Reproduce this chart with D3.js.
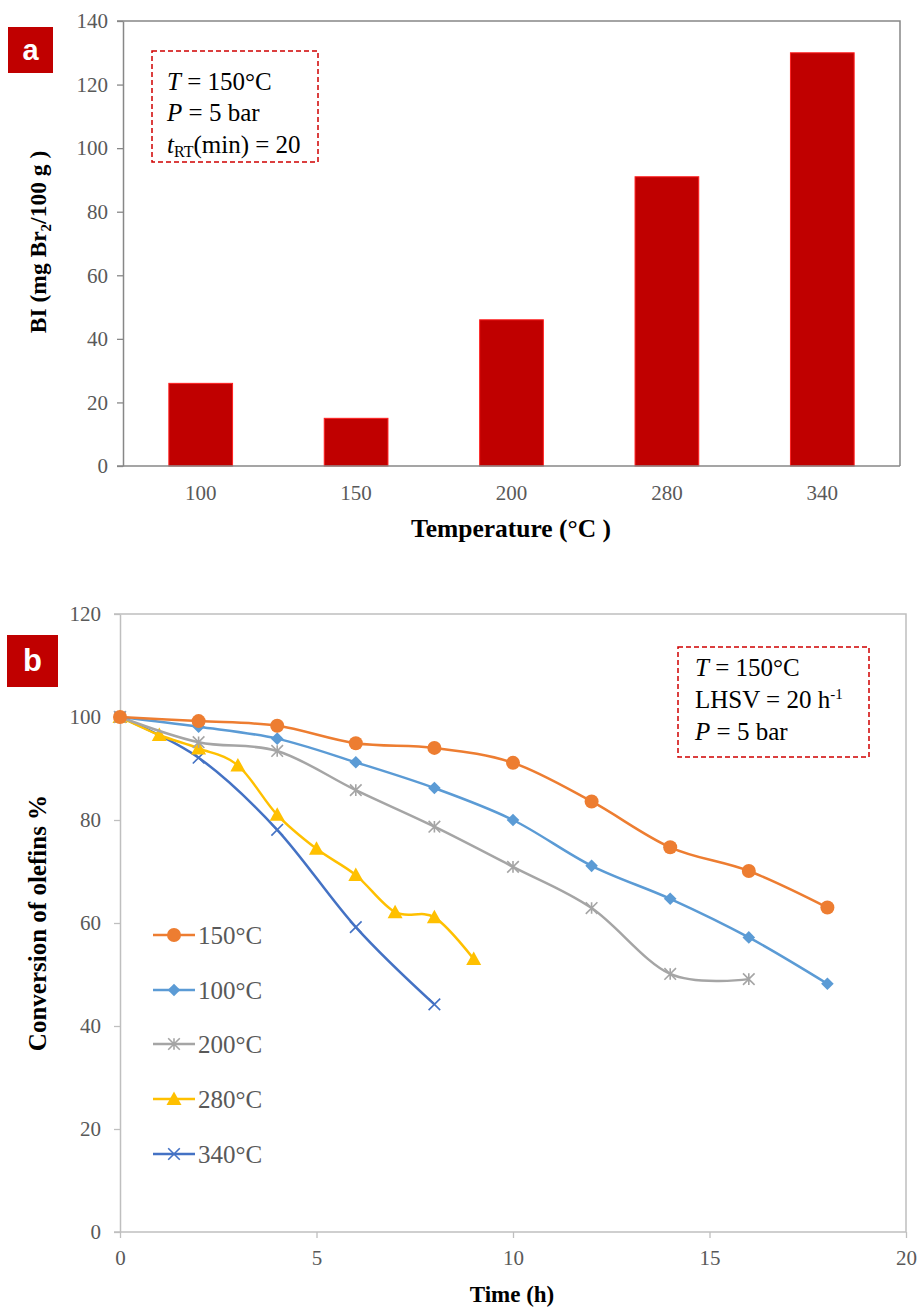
<!DOCTYPE html>
<html>
<head>
<meta charset="utf-8">
<script src="https://cdn.jsdelivr.net/npm/d3@7"></script>
<style>
  html, body { margin: 0; padding: 0; background: #fff; }
  svg { display: block; }
  text { font-family: "Liberation Serif", "Times New Roman", serif; }
</style>
</head>
<body>
<svg id="fig" width="918" height="1307"></svg>
<script>
// ---- Panel a: bromine index vs. temperature ----
const tempCats = ["100", "150", "200", "280", "340"];
const bromineIndex = [26, 15, 46, 91, 130];
const biTicks = [0, 20, 40, 60, 80, 100, 120, 140];

// ---- Panel b: olefin conversion vs. time ----
const seriesNames = ["150°C", "100°C", "200°C", "280°C", "340°C"];
const time150 = [0, 2, 4, 6, 8, 10, 12, 14, 16, 18];
const conv150 = [100, 99.2, 98.3, 94.9, 94.0, 91.1, 83.6, 74.7, 70.1, 63.0];
const time100 = [0, 2, 4, 6, 8, 10, 12, 14, 16, 18];
const conv100 = [100, 98.1, 95.8, 91.2, 86.2, 80.0, 71.1, 64.7, 57.2, 48.2];
const time200 = [0, 2, 4, 6, 8, 10, 12, 14, 16];
const conv200 = [100, 95.1, 93.4, 85.8, 78.7, 70.9, 62.9, 50.1, 49.1];
const time280 = [0, 1, 2, 3, 4, 5, 6, 7, 8, 9];
const conv280 = [100, 96.5, 93.9, 90.6, 81.0, 74.4, 69.3, 62.1, 61.1, 53.0];
const time340 = [0, 2, 4, 6, 8];
const conv340 = [100, 92.1, 78.1, 59.2, 44.2];
const timeTicks = [0, 5, 10, 15, 20];
const convTicks = [0, 20, 40, 60, 80, 100, 120];

const seriesColors = ["#ED7D31", "#5B9BD5", "#A5A5A5", "#FFC000", "#4472C4"];
const seriesMarkers = ["circle", "diamond", "star", "triangle", "cross"];

const svg = d3.select("#fig");
const tickGrey = "#595959";

// ================= Panel a =================
const ax = d3.scaleBand().domain(tempCats).range([123, 900])
  .paddingInner(0.59).paddingOuter(0.295);
const ay = d3.scaleLinear().domain([0, 140]).range([466, 21]);
const ga = svg.append("g");

// frame (top and right)
ga.append("path")
  .attr("d", `M117,${ay(140)}H900V${ay(0)}`)
  .attr("fill", "none").attr("stroke", "#878787").attr("stroke-width", 1.5);

ga.selectAll("rect.bar").data(tempCats).join("rect")
  .attr("class", "bar")
  .attr("x", d => ax(d))
  .attr("width", ax.bandwidth())
  .attr("y", (d, i) => ay(bromineIndex[i]))
  .attr("height", (d, i) => ay(0) - ay(bromineIndex[i]))
  .attr("fill", "#C00000")
  .attr("stroke", "#FF2020").attr("stroke-width", 1);

const ayAxis = ga.append("g").attr("transform", "translate(123,0)")
  .call(d3.axisLeft(ay).tickValues(biTicks).tickSize(6).tickSizeOuter(0).tickPadding(9));
ayAxis.select(".domain").attr("stroke", "#878787").attr("stroke-width", 1.5);
ayAxis.selectAll(".tick line").attr("stroke", "#878787").attr("stroke-width", 1.3);
ayAxis.selectAll(".tick text").attr("fill", tickGrey)
  .style("font-family", "Liberation Serif").style("font-size", "21px");

const axAxis = ga.append("g").attr("transform", `translate(0,${ay(0)})`)
  .call(d3.axisBottom(ax).tickSize(0).tickPadding(19));
axAxis.select(".domain").attr("d", `M117,0H900`).attr("stroke", "#878787").attr("stroke-width", 1.5);
axAxis.selectAll(".tick text").attr("fill", tickGrey)
  .style("font-family", "Liberation Serif").style("font-size", "21px");

ga.append("text").attr("x", 511).attr("y", 537).attr("text-anchor", "middle")
  .style("font-weight", "bold").style("font-size", "25.5px").text("Temperature (°C )");

const ylabA = ga.append("text").attr("transform", "translate(46,242) rotate(-90)")
  .attr("text-anchor", "middle").style("font-weight", "bold").style("font-size", "23.5px");
ylabA.append("tspan").text("BI (mg Br");
ylabA.append("tspan").attr("dy", 5).style("font-size", "15px").text("2");
ylabA.append("tspan").attr("dy", -5).text("/100 g )");

// panel letter
ga.append("rect").attr("x", 8).attr("y", 27).attr("width", 45).attr("height", 46).attr("fill", "#C00000");
ga.append("text").attr("x", 30.5).attr("y", 60).attr("text-anchor", "middle")
  .style("font-family", "Liberation Sans").style("font-weight", "bold")
  .style("font-size", "29px").attr("fill", "#fff").text("a");

// condition box
ga.append("rect").attr("x", 152).attr("y", 51).attr("width", 166).attr("height", 111)
  .attr("fill", "#fff").attr("stroke", "#D00000").attr("stroke-width", 1.5)
  .attr("stroke-dasharray", "5,3");
const boxA = ga.append("g").style("font-size", "25px");
let t = boxA.append("text").attr("x", 167).attr("y", 90);
t.append("tspan").style("font-style", "italic").text("T");
t.append("tspan").text(" = 150°C");
t = boxA.append("text").attr("x", 167).attr("y", 121);
t.append("tspan").style("font-style", "italic").text("P");
t.append("tspan").text(" = 5 bar");
t = boxA.append("text").attr("x", 167).attr("y", 153);
t.append("tspan").style("font-style", "italic").text("t");
t.append("tspan").attr("dy", 4).style("font-size", "16px").text("RT");
t.append("tspan").attr("dy", -4).text("(min) = 20");

// ================= Panel b =================
const bx = d3.scaleLinear().domain([0, 20]).range([120, 906]);
const by = d3.scaleLinear().domain([0, 120]).range([1232, 614]);
const gb = svg.append("g");
const lightGrey = "#BFBFBF";

gb.append("path")
  .attr("d", `M114,${by(120)}H${bx(20)}V${by(0)}`)
  .attr("fill", "none").attr("stroke", lightGrey).attr("stroke-width", 1.5);

const byAxis = gb.append("g").attr("transform", `translate(${bx(0)},0)`)
  .call(d3.axisLeft(by).tickValues(convTicks).tickSize(6).tickSizeOuter(0).tickPadding(13));
byAxis.select(".domain").attr("stroke", lightGrey).attr("stroke-width", 1.5);
byAxis.selectAll(".tick line").attr("stroke", lightGrey).attr("stroke-width", 1.3);
byAxis.selectAll(".tick text").attr("fill", tickGrey)
  .style("font-family", "Liberation Serif").style("font-size", "21px");

const bxAxis = gb.append("g").attr("transform", `translate(0,${by(0)})`)
  .call(d3.axisBottom(bx).tickValues(timeTicks).tickSize(6).tickSizeOuter(0).tickPadding(12));
bxAxis.select(".domain").attr("d", `M114,0H${bx(20)}`).attr("stroke", lightGrey).attr("stroke-width", 1.5);
bxAxis.selectAll(".tick line").attr("stroke", lightGrey).attr("stroke-width", 1.3);
bxAxis.selectAll(".tick text").attr("fill", tickGrey)
  .style("font-family", "Liberation Serif").style("font-size", "21px");

gb.append("text").attr("x", 512).attr("y", 1302).attr("text-anchor", "middle")
  .style("font-weight", "bold").style("font-size", "23px").text("Time (h)");
gb.append("text").attr("transform", "translate(46,923) rotate(-90)")
  .attr("text-anchor", "middle").style("font-weight", "bold").style("font-size", "25px")
  .text("Conversion of olefins %");

// marker drawing
function drawMarker(g, type, color, cx, cy) {
  if (type === "circle") {
    g.append("circle").attr("cx", cx).attr("cy", cy).attr("r", 7).attr("fill", color);
  } else if (type === "diamond") {
    const r = 6.3;
    g.append("path").attr("d", `M${cx},${cy - r}L${cx + r},${cy}L${cx},${cy + r}L${cx - r},${cy}Z`).attr("fill", color);
  } else if (type === "triangle") {
    g.append("path").attr("d", `M${cx},${cy - 7.5}L${cx + 7.5},${cy + 6}L${cx - 7.5},${cy + 6}Z`).attr("fill", color);
  } else if (type === "star") {
    const r = 5.8;
    g.append("path")
      .attr("d", `M${cx - r},${cy - r}L${cx + r},${cy + r}M${cx - r},${cy + r}L${cx + r},${cy - r}M${cx},${cy - r}V${cy + r}`)
      .attr("stroke", color).attr("stroke-width", 1.6).attr("fill", "none");
  } else if (type === "cross") {
    const r = 5.8;
    g.append("path")
      .attr("d", `M${cx - r},${cy - r}L${cx + r},${cy + r}M${cx - r},${cy + r}L${cx + r},${cy - r}`)
      .attr("stroke", color).attr("stroke-width", 1.6).attr("fill", "none");
  }
}

const seriesData = [
  [time150, conv150], [time100, conv100], [time200, conv200],
  [time280, conv280], [time340, conv340]
].map(([ts, cs]) => ts.map((tt, i) => [tt, cs[i]]));

const line = d3.line().x(d => bx(d[0])).y(d => by(d[1])).curve(d3.curveCardinal.tension(0));

// draw back to front so the 150°C series sits on top
const order = [4, 3, 2, 1, 0];
order.forEach(k => {
  const g = gb.append("g");
  g.append("path").datum(seriesData[k]).attr("d", line)
    .attr("fill", "none").attr("stroke", seriesColors[k]).attr("stroke-width", 2.5);
  seriesData[k].forEach(d => drawMarker(g, seriesMarkers[k], seriesColors[k], bx(d[0]), by(d[1])));
});

// legend
const legendY = [935, 990, 1044, 1099, 1154];
const leg = gb.append("g");
seriesNames.forEach((name, k) => {
  const y = legendY[k];
  leg.append("line").attr("x1", 153).attr("x2", 195).attr("y1", y).attr("y2", y)
    .attr("stroke", seriesColors[k]).attr("stroke-width", 2.5);
  drawMarker(leg, seriesMarkers[k], seriesColors[k], 174, y);
  leg.append("text").attr("x", 198).attr("y", y + 9).attr("fill", tickGrey)
    .style("font-size", "25px").text(name);
});

// panel letter
gb.append("rect").attr("x", 7).attr("y", 635).attr("width", 51).attr("height", 52).attr("fill", "#C00000");
gb.append("text").attr("x", 32.5).attr("y", 671).attr("text-anchor", "middle")
  .style("font-family", "Liberation Sans").style("font-weight", "bold")
  .style("font-size", "31px").attr("fill", "#fff").text("b");

// condition box
gb.append("rect").attr("x", 678).attr("y", 647).attr("width", 191).attr("height", 110)
  .attr("fill", "#fff").attr("stroke", "#D00000").attr("stroke-width", 1.5)
  .attr("stroke-dasharray", "5,3");
const boxB = gb.append("g").style("font-size", "25px");
t = boxB.append("text").attr("x", 695).attr("y", 676);
t.append("tspan").style("font-style", "italic").text("T");
t.append("tspan").text(" = 150°C");
t = boxB.append("text").attr("x", 695).attr("y", 708);
t.append("tspan").text("LHSV = 20 h");
t.append("tspan").attr("dy", -9).style("font-size", "15px").text("-1");
t = boxB.append("text").attr("x", 695).attr("y", 740);
t.append("tspan").style("font-style", "italic").text("P");
t.append("tspan").text(" = 5 bar");
</script>
</body>
</html>
